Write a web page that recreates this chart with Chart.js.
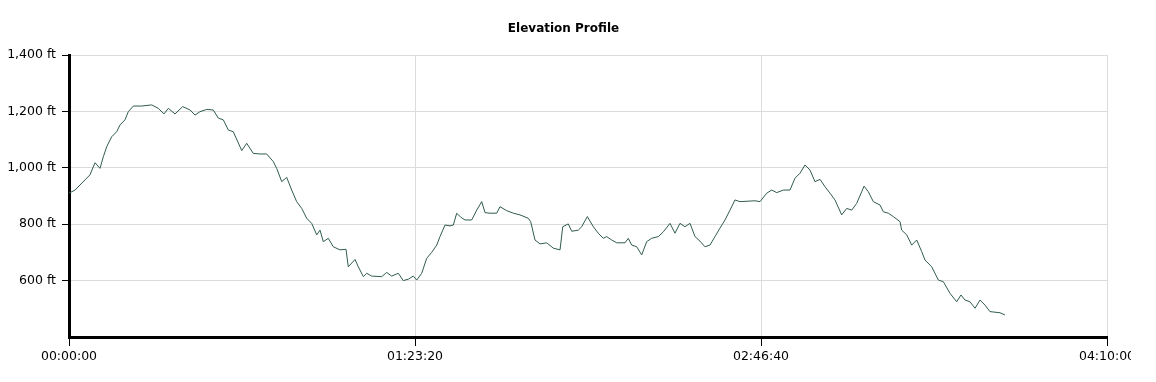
<!DOCTYPE html>
<html>
<head>
<meta charset="utf-8">
<script src="https://cdn.jsdelivr.net/npm/chart.js@4"></script>
<style>
  html, body { margin: 0; padding: 0; background: #fff; }
  #wrap { width: 1131px; height: 382px; overflow: hidden; position: relative; }
  canvas { display: block; }
</style>
</head>
<body>
<div id="wrap"><canvas id="c" width="1156" height="382"></canvas></div>
<script>
// elapsed time (seconds)
const times = [
  0, 87, 159, 231, 303, 376, 448, 496, 545, 617, 689, 737, 809, 857, 929, 1051, 1195, 1290, 1373, 1435,
  1532, 1643, 1749, 1821, 1893, 1990, 2085, 2158, 2230, 2302, 2374, 2496, 2568, 2663, 2760, 2857, 2952, 3001, 3074, 3146,
  3218, 3290, 3363, 3435, 3507, 3580, 3627, 3675, 3747, 3819, 3916, 4003, 4036, 4133, 4181, 4253, 4302, 4374, 4519, 4591,
  4663, 4759, 4831, 4903, 4975, 5025, 5097, 5169, 5241, 5314, 5361, 5434, 5506, 5554, 5603, 5660, 5723, 5819, 5892, 5964,
  6012, 6084, 6181, 6228, 6325, 6421, 6517, 6637, 6672, 6734, 6806, 6903, 6999, 7096, 7135, 7215, 7265, 7360, 7409, 7490,
  7577, 7649, 7721, 7770, 7843, 7915, 8035, 8083, 8131, 8204, 8276, 8348, 8420, 8516, 8589, 8685, 8757, 8829, 8901, 8974,
  9046, 9118, 9190, 9263, 9335, 9407, 9480, 9552, 9624, 9696, 9913, 9986, 10083, 10155, 10227, 10322, 10419, 10491, 10564, 10636,
  10708, 10780, 10853, 10925, 10997, 11069, 11166, 11238, 11311, 11383, 11455, 11489, 11551, 11623, 11720, 11768, 11840, 11912, 12009, 12033,
  12106, 12178, 12250, 12322, 12370, 12467, 12563, 12635, 12731, 12828, 12890, 12948, 13020, 13093, 13165, 13237, 13309, 13454, 13526
];
// elevation (ft)
const elevations = [
  910, 921, 939, 957, 975, 1018, 998, 1039, 1075, 1110, 1128, 1152, 1170, 1199, 1219, 1219, 1223, 1211, 1191, 1211,
  1191, 1217, 1205, 1187, 1199, 1207, 1205, 1176, 1170, 1134, 1128, 1061, 1087, 1051, 1049, 1049, 1022, 998, 951, 966,
  921, 880, 856, 821, 803, 762, 779, 738, 750, 720, 709, 711, 649, 675, 649, 614, 626, 616, 614, 629,
  616, 626, 600, 605, 616, 602, 626, 679, 700, 726, 756, 797, 794, 797, 839, 825, 815, 815, 850, 880,
  841, 839, 839, 862, 848, 839, 833, 821, 809, 744, 730, 734, 715, 709, 791, 801, 775, 779, 791, 827,
  791, 768, 750, 756, 744, 734, 734, 750, 726, 720, 691, 738, 750, 756, 773, 803, 768, 803, 791, 803,
  756, 740, 720, 726, 756, 786, 815, 850, 886, 880, 883, 880, 910, 921, 912, 921, 921, 963, 981, 1010,
  992, 951, 959, 933, 910, 886, 833, 856, 850, 874, 915, 935, 915, 880, 868, 844, 839, 827, 809, 779,
  762, 726, 744, 703, 673, 649, 602, 596, 555, 525, 549, 531, 525, 502, 531, 513, 490, 486, 478
];
// axis ticks
const xTicks = [0, 5000, 10000, 15000];
const yTicks = [600, 800, 1000, 1200, 1400];
const titleText = 'Elevation Profile';

function fmtTime(s) {
  const h = Math.floor(s / 3600), m = Math.floor((s % 3600) / 60), sec = Math.round(s % 60);
  const p = n => String(n).padStart(2, '0');
  return p(h) + ':' + p(m) + ':' + p(sec);
}

const points = times.map((t, i) => ({ x: t, y: elevations[i] }));
const FONT = "'DejaVu Sans', Verdana, sans-serif";

new Chart(document.getElementById('c'), {
  type: 'line',
  data: {
    datasets: [{
      data: points,
      borderColor: '#2f5c4c',
      borderWidth: 1,
      pointRadius: 0,
      tension: 0,
      fill: false
    }]
  },
  options: {
    responsive: false,
    animation: false,
    devicePixelRatio: 1,
    layout: { padding: { left: 0, right: 29, top: 0, bottom: 0 } },
    plugins: {
      legend: { display: false },
      tooltip: { enabled: false },
      title: {
        display: true,
        text: titleText,
        color: '#000',
        font: { family: FONT, size: 12, weight: 'bold' },
        padding: { top: 22, bottom: 18.6 }
      }
    },
    scales: {
      x: {
        type: 'linear',
        min: xTicks[0],
        max: xTicks[xTicks.length - 1],
        afterBuildTicks: s => { s.ticks = xTicks.map(v => ({ value: v })); },
        afterFit: s => { s.height = 45; },
        border: { display: true, color: '#000', width: 3 },
        grid: { color: '#dcdcdc', lineWidth: 1, tickColor: '#000', tickLength: 9, drawTicks: true },
        ticks: {
          color: '#000',
          font: { family: FONT, size: 12.5 },
          padding: 3,
          maxRotation: 0,
          autoSkip: false,
          callback: v => fmtTime(v)
        }
      },
      y: {
        type: 'linear',
        min: 400,
        max: 1400,
        afterBuildTicks: s => { s.ticks = [400].concat(yTicks).map(v => ({ value: v })); },
        afterFit: s => { s.width = 69; },
        border: { display: true, color: '#000', width: 3 },
        grid: { color: '#dcdcdc', lineWidth: 1, tickColor: '#000', tickLength: 7 },
        ticks: {
          color: '#000',
          font: { family: FONT, size: 12.5 },
          padding: 6,
          autoSkip: false,
          callback: v => yTicks.includes(v) ? v.toLocaleString('en-US') + ' ft' : null
        }
      },
      spacer: {
        type: 'linear',
        position: 'right',
        display: true,
        afterFit: s => { s.width = 20; },
        border: { display: false },
        grid: { display: false, drawTicks: false },
        ticks: { display: false }
      }
    }
  }
});
</script>
</body>
</html>
